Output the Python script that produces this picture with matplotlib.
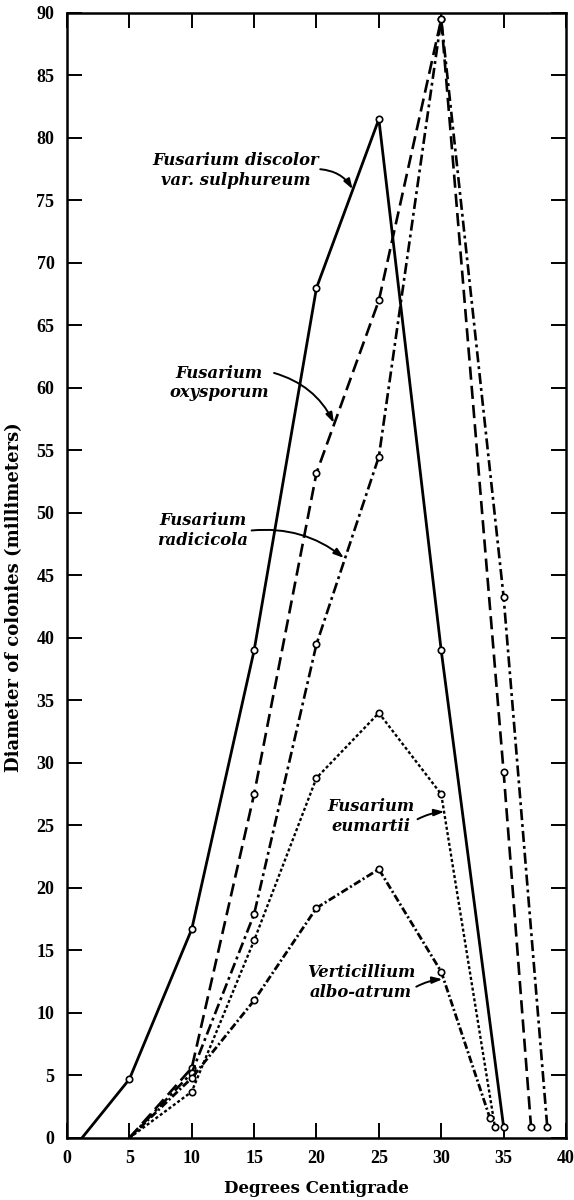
import matplotlib
matplotlib.use("Agg")
import matplotlib.pyplot as plt
from matplotlib.font_manager import FontProperties

# growth of colonies against temperature
temp_discolor = [1.2, 5, 10, 15, 20, 25, 30, 35]
diam_discolor = [0, 4.7, 16.7, 39, 68, 81.5, 39, 0.9]

temp_oxysporum = [5, 10, 15, 20, 25, 30, 35, 37.2]
diam_oxysporum = [0, 5.6, 27.5, 53.2, 67, 89.5, 29.3, 0.9]

temp_radicicola = [5, 10, 15, 20, 25, 30, 35, 38.5]
diam_radicicola = [0, 5.2, 17.9, 39.5, 54.5, 89.5, 43.3, 0.9]

temp_eumartii = [5, 10, 15, 20, 25, 30, 34.3]
diam_eumartii = [0, 3.7, 15.8, 28.8, 34, 27.5, 0.9]

temp_verticillium = [5, 10, 15, 20, 25, 30, 33.9]
diam_verticillium = [0, 4.8, 11, 18.4, 21.5, 13.3, 1.6]

labels = ["Fusarium discolor\nvar. sulphureum", "Fusarium\noxysporum",
          "Fusarium\nradicicola", "Fusarium\neumartii",
          "Verticillium\nalbo-atrum"]

TICK_FONT = FontProperties(family="Liberation Serif", weight="bold", size=13)
NOTE_FONT = dict(family="DejaVu Serif", weight="bold", style="italic", size=11.8)


def curve(ax, x, y, dashes, lw=1.9):
    line, = ax.plot(x, y, color="black", lw=lw, marker="o", ms=4.6,
                    mfc="white", mec="black", mew=1.2,
                    markevery=list(range(1, len(x))), zorder=3)
    if dashes:
        line.set_dashes(dashes)
        line.set_dash_capstyle("butt")


def note(ax, text, xy, tail, head, rad, ha="center"):
    ax.text(xy[0], xy[1], text, ha=ha, va="center", multialignment="center",
            linespacing=1.2, **NOTE_FONT)
    ax.annotate("", xy=head, xytext=tail,
                arrowprops=dict(arrowstyle="-|>,head_length=0.6,head_width=0.2",
                                connectionstyle="arc3,rad=%s" % rad,
                                color="black", lw=1.4, shrinkA=0, shrinkB=0))


def plot():
    fig = plt.figure(figsize=(5.74, 12), dpi=100)
    ax = fig.add_axes([0.1167, 0.0517, 0.8693, 0.9375])

    curve(ax, temp_discolor, diam_discolor, None, lw=2.0)
    curve(ax, temp_oxysporum, diam_oxysporum, (5, 2.3))
    curve(ax, temp_radicicola, diam_radicicola, (4.2, 1.5, 1.1, 1.5))
    curve(ax, temp_eumartii, diam_eumartii, (1.3, 1.0), lw=1.7)
    curve(ax, temp_verticillium, diam_verticillium, (2.7, 0.95, 0.75, 0.95), lw=2.0)

    note(ax, labels[0], (13.5, 77.4), (20.3, 77.5), (22.9, 75.9), -0.25)
    note(ax, labels[1], (12.2, 60.4), (16.6, 61.2), (21.4, 57.2), -0.22)
    note(ax, labels[2], (10.9, 48.6), (14.8, 48.6), (22.2, 46.4), -0.2)
    note(ax, labels[3], (27.9, 25.7), (28.1, 25.5), (30.25, 26.1), -0.1, ha="right")
    note(ax, labels[4], (27.9, 12.45), (28.0, 12.1), (30.1, 12.7), -0.1, ha="right")

    ax.set_xlim(0, 40)
    ax.set_ylim(0, 90)
    ax.set_xticks(range(0, 41, 5))
    ax.set_yticks(range(0, 91, 5))
    ax.tick_params(direction="in", length=11, width=1.4, top=True, right=True, pad=9)
    for lab in ax.get_xticklabels() + ax.get_yticklabels():
        lab.set_fontproperties(TICK_FONT)
    for side in ax.spines.values():
        side.set_linewidth(1.8)

    ax.set_xlabel("Degrees Centigrade", family="DejaVu Serif", weight="bold", size=12)
    ax.set_ylabel("Diameter of colonies (millimeters)", family="DejaVu Serif",
                  weight="bold", size=13)
    ax.xaxis.set_label_coords(0.5, -0.037)
    ax.yaxis.set_label_coords(-0.088, 0.481)

    fig.savefig("out.png", dpi=100)


if __name__ == '__main__':
    plot()
